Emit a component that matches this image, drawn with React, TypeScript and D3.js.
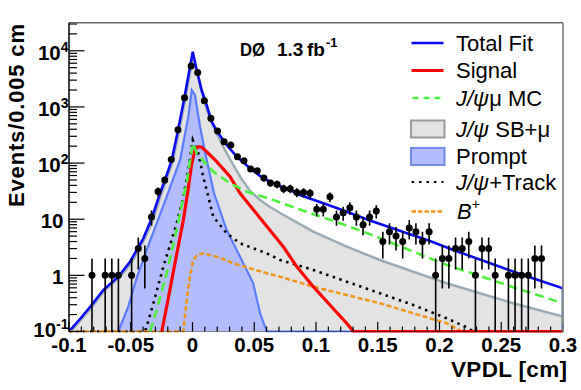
import React from 'react';
import * as d3 from 'd3';

type P = [number, number];

// ---- data ----
const vpdlBins: number[] = [
  -0.0814, -0.0760, -0.0707, -0.0653, -0.0600, -0.0546, -0.0493, -0.0439, -0.0386, -0.0332,
  -0.0279, -0.0225, -0.0172, -0.0118, -0.0065, -0.0011, 0.0042, 0.0096, 0.0149, 0.0203,
  0.0256, 0.0310, 0.0364, 0.0417, 0.0471, 0.0524, 0.0578, 0.0631, 0.0685, 0.0738,
  0.0792, 0.0845, 0.0899, 0.0952, 0.1006, 0.1059, 0.1113, 0.1166, 0.1220, 0.1274,
  0.1327, 0.1381, 0.1434, 0.1488, 0.1541, 0.1595, 0.1648, 0.1702, 0.1755, 0.1809,
  0.1862, 0.1916, 0.1969, 0.2023, 0.2076, 0.2130, 0.2184, 0.2237, 0.2291, 0.2344,
  0.2398, 0.2451, 0.2505, 0.2558, 0.2612, 0.2665, 0.2719, 0.2772, 0.2826,
];
const events: number[] = [
  1, 0, 1, 1, 1, 0, 1, 3, 2, 11,
  31, 50, 116, 391, 1453, 5358, 4102, 1291, 627, 372,
  240, 210, 130, 110, 78, 73, 54, 44, 42, 35,
  35, 30, 30, 29, 15, 15, 25, 11, 13, 16,
  11, 8, 11, 14, 4, 6, 5, 4, 7, 6,
  4, 6, 1, 2, 2, 3, 3, 4, 1, 3,
  3, 1, 0, 1, 1, 1, 1, 2, 2,
];

const totalFit: P[] = [
  [-0.1, 0.1], [-0.0911, 0.167], [-0.083, 0.273], [-0.0722, 0.548], [-0.0601, 0.946], [-0.0506, 1.75],
  [-0.0398, 4.57], [-0.033, 10.4], [-0.0263, 28.9], [-0.0223, 49.9], [-0.0168, 113], [-0.0117, 388],
  [-0.0066, 1442], [-0.002, 5200], [0.0002, 9640], [0.0034, 4550], [0.0074, 2000], [0.0115, 1081],
  [0.0155, 546], [0.0209, 339], [0.0277, 210], [0.0358, 130], [0.0466, 80.7], [0.0573, 53.6],
  [0.0682, 40.6], [0.0789, 33.1], [0.087, 27.0], [0.1168, 15.8], [0.1437, 9.49], [0.1707, 5.92],
  [0.1923, 4.09], [0.2112, 2.83], [0.2382, 1.73], [0.2652, 1.06], [0.3, 0.587], [0.3, 0.1],
];
const signal: P[] = [
  [-0.0249, 0.1], [-0.0209, 0.277], [-0.0142, 1.64], [-0.0074, 9.68], [-0.0036, 33.1], [-0.0008, 92.4],
  [0.002, 171], [0.0047, 196], [0.0074, 191], [0.0115, 159], [0.0196, 106], [0.0304, 57.2],
  [0.0385, 28.9], [0.0547, 10.5], [0.0735, 3.24], [0.0844, 1.43], [0.0978, 0.628], [0.1113, 0.296],
  [0.1249, 0.14], [0.1302, 0.1], [0.3, 0.1],
];
const jpsiMuMC: P[] = [
  [-0.0344, 0.1], [-0.029, 0.242], [-0.0209, 1.09], [-0.0128, 6.42], [-0.0074, 25.2], [-0.0047, 43.6],
  [-0.0006, 171], [0.0006, 225], [0.0034, 149], [0.0168, 70.2], [0.0304, 43.6], [0.0439, 30.9],
  [0.0573, 25.2], [0.0654, 22.0], [0.0897, 14.2], [0.1168, 8.92], [0.1491, 4.88], [0.1788, 2.64],
  [0.2058, 1.53], [0.2328, 0.974], [0.2598, 0.612], [0.3, 0.318], [0.3, 0.1],
];
const sbMu: P[] = [
  [-0.0984, 0.1], [-0.0814, 0.273], [-0.0709, 0.548], [-0.0587, 0.946], [-0.049, 1.75], [-0.0385, 4.57],
  [-0.0317, 10.4], [-0.0251, 28.9], [-0.0211, 49.9], [-0.0158, 113], [-0.0107, 388], [-0.0057, 1442],
  [-0.0012, 5200], [0.0004, 7745], [0.0036, 4190], [0.0074, 1845], [0.0117, 881], [0.0182, 388],
  [0.0263, 171], [0.033, 92.4], [0.0385, 57.2], [0.0466, 31.8], [0.0547, 22.0], [0.0628, 16.5],
  [0.0709, 12.9], [0.0978, 5.99], [0.1249, 3.24], [0.1518, 1.88], [0.1788, 1.16], [0.2058, 0.722],
  [0.2328, 0.479], [0.2598, 0.318], [0.3, 0.185], [0.3, 0.1],
];
const prompt: P[] = [
  [-0.0601, 0.1], [-0.052, 0.277], [-0.0452, 0.898], [-0.0371, 2.83], [-0.029, 8.46], [-0.0209, 25.2],
  [-0.0101, 113], [-0.0034, 670], [-0.0006, 2000], [0.002, 1630], [0.0061, 444], [0.0115, 113],
  [0.0174, 29.3], [0.0277, 6.42], [0.0385, 2.15], [0.0492, 0.722], [0.0547, 0.211], [0.0601, 0.1],
  [0.3, 0.1],
];
const jpsiTrack: P[] = [
  [-0.1, 0.1], [-0.0385, 0.1], [-0.0371, 0.122], [-0.0317, 0.318], [-0.0236, 1.43], [-0.0128, 8.46],
  [-0.0074, 25.2], [-0.0034, 75.2], [0.0002, 258], [0.0047, 149], [0.0087, 57.2], [0.0128, 25.2],
  [0.0168, 11.1], [0.0277, 5.61], [0.0385, 3.72], [0.0601, 2.47], [0.0709, 1.88], [0.0978, 1.25],
  [0.1249, 0.771], [0.1518, 0.479], [0.1788, 0.296], [0.2058, 0.172], [0.222, 0.119], [0.2274, 0.1],
];
const bPlus: P[] = [
  [-0.1, 0.1], [-0.0074, 0.1], [-0.0047, 0.364], [-0.002, 1.01], [0.0004, 1.8], [0.0036, 2.3],
  [0.0087, 2.47], [0.0196, 2.15], [0.033, 1.64], [0.0601, 1.09], [0.0709, 0.946], [0.0978, 0.628],
  [0.1249, 0.447], [0.1518, 0.318], [0.1788, 0.211], [0.2058, 0.14], [0.218, 0.1], [0.3, 0.1],
];

const xMajorTicks = [-0.1, -0.05, 0, 0.05, 0.1, 0.15, 0.2, 0.25, 0.3];
const xTickLabels = ['-0.1', '-0.05', '0', '0.05', '0.1', '0.15', '0.2', '0.25', '0.3'];
const yMajorTicks = [0.1, 1, 10, 100, 1000, 10000];
const yTickBase = ['10', '1', '10', '10', '10', '10'];
const yTickExp = ['-1', '', '', '2', '3', '4'];

const FONT = "'Liberation Sans', Arial, Helvetica, sans-serif";
const C = {
  total: '#0a0af5',
  signal: '#ff0000',
  mc: '#4ef03c',
  sbFill: '#e3e3e3',
  sbLine: '#9aabb3',
  prFill: '#b3bdff',
  prLine: '#5b7cff',
  track: '#000000',
  bplus: '#f0961e',
};

export default function App() {
  const W = 581, H = 390;
  const L = 69, R = 563, T = 22.7, B = 331.5;
  const x = d3.scaleLinear().domain([-0.1, 0.3]).range([L, R]);
  const y = d3.scaleLog().domain([0.1, Math.pow(10, 4.5)]).range([B, T]).clamp(true);
  const line = d3.line<P>().x(d => x(d[0])).y(d => y(d[1]));
  const area = d3.area<P>().x(d => x(d[0])).y0(B).y1(d => y(d[1]));

  const yMinor: number[] = [];
  for (const dec of [0.1, 1, 10, 100, 1000, 10000]) {
    for (let k = 2; k <= 9; k++) {
      const v = k * dec;
      if (v < Math.pow(10, 4.5)) yMinor.push(v);
    }
  }
  const xMinor: number[] = d3.range(-0.1, 0.3001, 0.01).filter(v => Math.abs(Math.round(v * 20) - v * 20) > 1e-6);

  const legendRows = [43, 70.5, 98, 129, 156.5, 182, 211.5];
  const lx0 = 411.5, lx1 = 443.5, tx = 456;

  return (
    <div style={{ position: 'absolute', left: 0, top: 0 }}>
      <svg width={W} height={H} style={{ display: 'block', background: '#fff' }} fontFamily={FONT}>
        <defs>
          <clipPath id="plotClip">
            <rect x={L} y={T} width={R - L} height={B - T + 1} />
          </clipPath>
        </defs>
        <g clipPath="url(#plotClip)">
          <path d={area(sbMu) || ''} fill={C.sbFill} />
          <path d={line(sbMu) || ''} fill="none" stroke={C.sbLine} strokeWidth={2.5} />
          <path d={area(prompt) || ''} fill={C.prFill} />
          <path d={line(prompt) || ''} fill="none" stroke={C.prLine} strokeWidth={2.2} />
          <path d={line(totalFit) || ''} fill="none" stroke={C.total} strokeWidth={2.6} />
          <path d={line(jpsiTrack) || ''} fill="none" stroke={C.track} strokeWidth={2.6} strokeDasharray="2.5,4.5" />
          <path d={line(bPlus) || ''} fill="none" stroke={C.bplus} strokeWidth={2.6} strokeDasharray="5,2.5" />
          <path d={line(signal) || ''} fill="none" stroke={C.signal} strokeWidth={3.2} />
          <path d={line(jpsiMuMC) || ''} fill="none" stroke={C.mc} strokeWidth={2.6} strokeDasharray="9,5" />
        </g>

        {/* axes ticks */}
        {yMajorTicks.map((v, i) => (
          <line key={'ym' + i} x1={L} x2={L + 15.5} y1={y(v)} y2={y(v)} stroke="#000" strokeWidth={1.2} />
        ))}
        {yMinor.map((v, i) => (
          <line key={'yn' + i} x1={L} x2={L + 8} y1={y(v)} y2={y(v)} stroke="#000" strokeWidth={1.2} />
        ))}
        {xMajorTicks.map((v, i) => (
          <line key={'xm' + i} x1={x(v)} x2={x(v)} y1={B} y2={B - 9.5} stroke="#000" strokeWidth={1.2} />
        ))}
        {xMinor.map((v, i) => (
          <line key={'xn' + i} x1={x(v)} x2={x(v)} y1={B} y2={B - 5} stroke="#000" strokeWidth={1.2} />
        ))}

        {/* data */}
        <g clipPath="url(#plotClip)">
          {vpdlBins.map((b, i) => {
            const n = events[i];
            if (n <= 0) return null;
            const e = Math.sqrt(n);
            return (
              <line key={'e' + i} x1={x(b)} x2={x(b)} y1={y(n + e)} y2={y(Math.max(n - e, 0.01))}
                stroke="#000" strokeWidth={1.6} />
            );
          })}
          {vpdlBins.map((b, i) => events[i] > 0 ? (
            <circle key={'p' + i} cx={x(b)} cy={y(events[i])} r={3.5} fill="#000" />
          ) : null)}
        </g>

        {/* frame */}
        <line x1={L} x2={R} y1={T} y2={T} stroke="#666" strokeWidth={1.5} />
        <line x1={R} x2={R} y1={T} y2={B} stroke="#888" strokeWidth={1.8} />
        <line x1={L} x2={L} y1={T} y2={B} stroke="#000" strokeWidth={1.5} />
        <line x1={L} x2={R} y1={B} y2={B} stroke="#000" strokeWidth={1} opacity={0.4} />

        {/* tick labels */}
        {xMajorTicks.map((v, i) => (
          <text key={'xl' + i} x={x(v)} y={351.5} textAnchor="middle" fontSize={20.5} fontWeight="bold">
            {xTickLabels[i]}
          </text>
        ))}
        {yMajorTicks.map((v, i) => (
          yTickExp[i] ? (
            <text key={'yl' + i} x={68.5} y={y(v) + (v < 1 ? 5.5 : 9)} textAnchor="end" fontSize={20.5} fontWeight="bold">
              {yTickBase[i]}
              <tspan fontSize={14} dy={-8}>{yTickExp[i]}</tspan>
            </text>
          ) : (
            <text key={'yl' + i} x={63.5} y={y(v) + 9} textAnchor="end" fontSize={20.5} fontWeight="bold">
              {yTickBase[i]}
            </text>
          )
        ))}

        {/* axis titles */}
        <text x={567} y={377} textAnchor="end" fontSize={22.5} fontWeight="bold"
          textLength={116} lengthAdjust="spacing">VPDL [cm]</text>
        <text transform="translate(24,24) rotate(-90)" textAnchor="end" fontSize={22} fontWeight="bold"
          textLength={183} lengthAdjust="spacing">Events/0.005 cm</text>

        {/* experiment label */}
        <text x={240} y={55.5} fontSize={19} fontWeight="bold" textLength={25} lengthAdjust="spacingAndGlyphs">DØ</text>
        <text x={277} y={55.5} fontSize={19} fontWeight="bold">1.3</text>
        <text x={307} y={55.5} fontSize={19} fontWeight="bold">
          fb<tspan fontSize={13} dy={-8.5} dx={1}>-1</tspan>
        </text>

        {/* legend */}
        <g>
          <line x1={lx0} x2={lx1} y1={legendRows[0]} y2={legendRows[0]} stroke={C.total} strokeWidth={2.5} />
          <line x1={lx0} x2={lx1} y1={legendRows[1]} y2={legendRows[1]} stroke={C.signal} strokeWidth={3.2} />
          <line x1={lx0} x2={lx1} y1={legendRows[2]} y2={legendRows[2]} stroke={C.mc} strokeWidth={2.5} strokeDasharray="6,5" strokeDashoffset={-1} />
          <rect x={411} y={legendRows[3] - 8.5} width={33.5} height={17} fill={C.sbFill} stroke="#9a9a9a" strokeWidth={2} />
          <rect x={411} y={legendRows[4] - 8.5} width={33.5} height={17} fill={C.prFill} stroke="#6f8ae8" strokeWidth={2} />
          <line x1={lx0} x2={lx1} y1={legendRows[5]} y2={legendRows[5]} stroke={C.track} strokeWidth={2.2} strokeDasharray="2.5,5" />
          <line x1={lx0} x2={lx1} y1={legendRows[6]} y2={legendRows[6]} stroke={C.bplus} strokeWidth={2.5} strokeDasharray="4.5,2" />

          <text x={tx} y={legendRows[0] + 7.5} fontSize={22}>Total Fit</text>
          <text x={tx} y={legendRows[1] + 7.5} fontSize={22}>Signal</text>
          <text x={tx} y={legendRows[2] + 7.5} fontSize={22}><tspan fontStyle="italic">J/ψ</tspan>μ MC</text>
          <text x={tx} y={legendRows[3] + 7.5} fontSize={22}><tspan fontStyle="italic">J/ψ</tspan> SB+μ</text>
          <text x={tx} y={legendRows[4] + 7.5} fontSize={22}>Prompt</text>
          <text x={tx} y={legendRows[5] + 7.5} fontSize={22}><tspan fontStyle="italic">J/ψ</tspan>+Track</text>
          <text x={tx + 1} y={legendRows[6] + 7.5} fontSize={22}><tspan fontStyle="italic">B</tspan><tspan fontSize={14} dy={-10}>+</tspan></text>
        </g>
      </svg>
    </div>
  );
}
